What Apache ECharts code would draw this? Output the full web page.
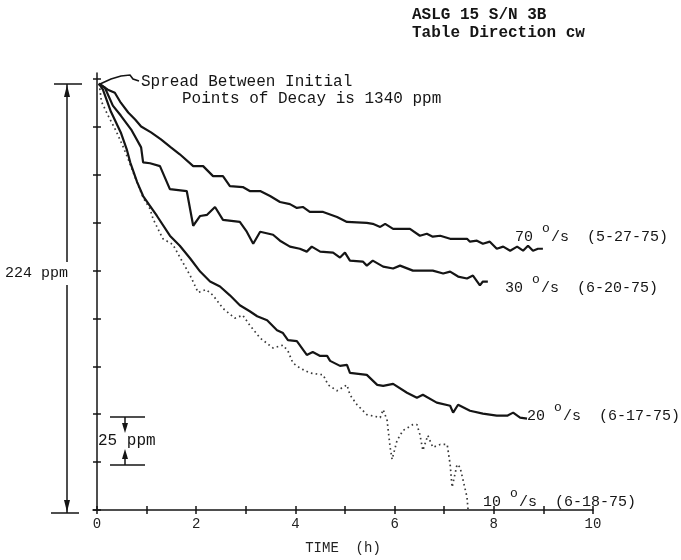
<!DOCTYPE html>
<html>
<head>
<meta charset="utf-8">
<script src="https://cdn.jsdelivr.net/npm/echarts@6/dist/echarts.min.js"></script>
<style>
  html, body { margin: 0; padding: 0; background: #fff; }
  #chart { width: 681px; height: 560px; }
</style>
</head>
<body>
<div id="chart"></div>
<script>
// Time axis (hours): a tick every hour, labels every two hours
const timeTicks = [0, 1, 2, 3, 4, 5, 6, 7, 8, 9, 10];
const timeLabels = [0, 2, 4, 6, 8, 10];
// Drift axis (ppm): a tick every 25 ppm
const ppmTicks = [0, 25, 50, 75, 100, 125, 150, 175, 200, 225];

// Decay curves: [time h, relative drift ppm]
const decay70 = [
  [0.04, 222.4], [0.22, 219.3], [0.36, 217.7], [0.48, 212.5], [0.63, 207.4], [0.77, 203.7],
  [0.89, 200.1], [1.09, 197.0], [1.29, 193.4], [1.49, 189.2], [1.67, 185.6], [1.94, 179.4],
  [2.14, 179.4], [2.34, 174.2], [2.54, 174.2], [2.68, 169.0], [2.94, 168.5], [3.08, 166.4],
  [3.29, 166.4], [3.49, 163.8], [3.69, 160.7], [3.89, 159.6], [4.03, 157.6], [4.15, 158.1],
  [4.29, 155.5], [4.56, 155.5], [4.84, 152.9], [5.04, 150.3], [5.44, 149.8], [5.56, 149.3],
  [5.71, 147.7], [5.81, 149.3], [5.97, 146.7], [6.31, 146.7], [6.51, 143.1], [6.65, 144.1],
  [6.77, 142.6], [6.92, 143.1], [7.12, 141.5], [7.46, 141.5], [7.52, 140.0], [7.66, 140.5],
  [7.78, 138.9], [7.92, 140.0], [8.06, 136.3], [8.19, 137.4], [8.33, 135.3], [8.47, 137.4],
  [8.59, 135.3], [8.69, 137.9], [8.79, 135.3], [8.89, 136.3], [8.99, 136.3]
];
const decay30 = [
  [0.04, 222.4], [0.16, 220.3], [0.32, 211.0], [0.48, 205.8], [0.69, 198.5], [0.89, 189.2],
  [0.93, 181.4], [1.07, 180.9], [1.27, 179.4], [1.47, 167.4], [1.81, 166.4], [1.94, 148.3],
  [2.08, 153.4], [2.22, 154.0], [2.38, 158.1], [2.54, 151.4], [2.88, 150.3], [3.02, 145.2],
  [3.15, 138.9], [3.29, 145.2], [3.55, 143.6], [3.69, 140.5], [3.89, 137.4], [4.09, 136.3],
  [4.23, 134.8], [4.33, 137.4], [4.50, 134.8], [4.76, 134.3], [4.90, 131.7], [5.00, 134.3],
  [5.10, 130.1], [5.36, 129.6], [5.44, 127.5], [5.56, 130.1], [5.77, 127.0], [5.97, 126.0],
  [6.11, 127.5], [6.37, 124.9], [6.77, 124.9], [6.98, 123.4], [7.12, 124.4], [7.28, 121.8],
  [7.46, 120.8], [7.58, 122.3], [7.72, 117.2], [7.78, 119.2], [7.88, 119.2]
];
const decay20 = [
  [0.04, 222.4], [0.12, 219.3], [0.28, 207.9], [0.48, 197.0], [0.60, 188.2], [0.67, 181.4],
  [0.81, 171.1], [0.93, 163.8], [1.21, 153.4], [1.47, 143.1], [1.67, 137.9], [1.88, 131.2],
  [2.08, 124.4], [2.28, 119.2], [2.48, 116.6], [2.68, 112.0], [2.88, 106.8], [3.08, 103.7],
  [3.23, 101.1], [3.43, 99.0], [3.63, 93.8], [3.75, 92.3], [3.85, 88.6], [4.03, 88.1],
  [4.23, 80.9], [4.35, 82.4], [4.50, 80.4], [4.64, 80.4], [4.70, 77.8], [4.90, 75.2],
  [5.04, 75.7], [5.10, 71.5], [5.44, 70.5], [5.65, 65.3], [5.77, 64.8], [5.97, 65.8],
  [6.25, 61.2], [6.45, 58.6], [6.57, 60.1], [6.85, 56.0], [7.12, 54.4], [7.18, 50.8],
  [7.28, 54.9], [7.52, 51.8], [7.78, 50.3], [8.06, 49.2], [8.27, 49.2], [8.39, 50.8],
  [8.53, 48.2], [8.67, 47.7]
];
const decay10 = [
  [0.04, 222.4], [0.06, 219.3], [0.09, 213.1], [0.22, 206.0], [0.38, 198.0], [0.52, 190.0],
  [0.63, 183.0], [0.77, 173.5], [0.93, 163.0], [1.07, 157.1], [1.13, 151.9], [1.33, 141.5],
  [1.53, 138.5], [1.71, 130.1], [1.88, 122.3], [2.04, 113.5], [2.20, 115.0], [2.34, 112.0],
  [2.54, 105.2], [2.78, 100.1], [2.94, 101.6], [3.08, 96.4], [3.29, 89.7], [3.55, 84.5],
  [3.75, 86.0], [3.85, 83.0], [3.95, 76.7], [4.09, 74.1], [4.29, 71.5], [4.56, 70.5],
  [4.66, 65.3], [4.84, 62.2], [5.04, 65.3], [5.10, 60.1], [5.24, 55.0], [5.44, 49.8],
  [5.71, 48.2], [5.77, 52.4], [5.85, 46.7], [5.91, 32.7], [5.95, 26.4], [6.05, 36.3],
  [6.17, 41.5], [6.37, 44.6], [6.45, 44.6], [6.51, 39.4], [6.57, 31.1], [6.67, 38.9],
  [6.77, 32.7], [6.92, 34.2], [7.06, 34.2], [7.12, 23.8], [7.16, 11.9], [7.26, 23.8],
  [7.32, 22.3], [7.38, 15.6], [7.46, 6.7], [7.48, 0.5]
];

const INK = '#151515';
const MONO = '"Liberation Mono", "DejaVu Sans Mono", monospace';

function txt(x, y, s, size, weight) {
  return {
    type: 'text', x: x, y: y,
    style: { text: s, font: (weight || 'normal') + ' ' + size + 'px ' + MONO, fill: INK, textVerticalAlign: 'middle' }
  };
}
function seg(x1, y1, x2, y2, w) {
  return { type: 'line', shape: { x1: x1, y1: y1, x2: x2, y2: y2 }, style: { stroke: INK, lineWidth: w || 1.5 } };
}
function tri(pts) {
  return { type: 'polygon', shape: { points: pts }, style: { fill: INK } };
}
// rate label with a raised degree mark: "NN °/s  (date)"
function rateLabel(x, y, rate, date) {
  return [
    txt(x, y, rate + '  /s  ' + date, 15),
    txt(x + 27, y - 8, 'o', 13)
  ];
}

const chart = echarts.init(document.getElementById('chart'), null, { renderer: 'canvas' });

const xBase = {
  type: 'value', min: -0.08, max: 10, position: 'bottom',
  splitLine: { show: false }
};
const yBase = {
  type: 'value', min: 0, max: 228, position: 'left',
  splitLine: { show: false }, axisLabel: { show: false }
};

const lineSeries = (data, dotted) => ({
  type: 'line', data: data, showSymbol: false, smooth: false, z: dotted ? 2 : 3,
  lineStyle: dotted
    ? { color: '#3a3a3a', width: 1.7, type: [1.6, 3.2] }
    : { color: INK, width: 2.2 },
  emphasis: { disabled: true }
});

chart.setOption({
  animation: false,
  backgroundColor: '#ffffff',
  grid: { left: 93, right: 88, top: 73, bottom: 47, containLabel: false },
  xAxis: [
    Object.assign({}, xBase, {
      axisLine: { show: true, lineStyle: { color: INK, width: 1.5 } },
      axisTick: { show: true, inside: false, length: 4, customValues: timeTicks, lineStyle: { color: INK, width: 1.5 } },
      axisLabel: { show: true, customValues: timeLabels, margin: 7, color: '#222', fontFamily: MONO, fontSize: 14 },
      name: 'TIME  (h)', nameLocation: 'middle', nameGap: 31,
      nameTextStyle: { color: '#222', fontFamily: MONO, fontSize: 14 }
    }),
    Object.assign({}, xBase, {
      axisLine: { show: false },
      axisTick: { show: true, inside: true, length: 4, customValues: timeTicks, lineStyle: { color: INK, width: 1.5 } },
      axisLabel: { show: false }
    })
  ],
  yAxis: [
    Object.assign({}, yBase, {
      axisLine: { show: true, lineStyle: { color: INK, width: 1.5 } },
      axisTick: { show: true, inside: false, length: 4, customValues: ppmTicks, lineStyle: { color: INK, width: 1.5 } }
    }),
    Object.assign({}, yBase, {
      axisLine: { show: false },
      axisTick: { show: true, inside: true, length: 4, customValues: ppmTicks, lineStyle: { color: INK, width: 1.5 } }
    })
  ],
  series: [
    lineSeries(decay10, true),
    lineSeries(decay20),
    lineSeries(decay30),
    lineSeries(decay70)
  ],
  graphic: [].concat(
    // header
    [txt(412, 15, 'ASLG 15 S/N 3B', 16, 'bold'), txt(412, 33, 'Table Direction cw', 16, 'bold')],
    // spread annotation with its leader
    [
      { type: 'polyline', shape: { points: [[100, 84], [111, 79], [121, 76], [130, 75], [133, 79], [139, 81]] },
        style: { stroke: INK, lineWidth: 1.6, fill: null } },
      txt(141, 82, 'Spread Between Initial', 16),
      txt(182, 99, 'Points of Decay is 1340 ppm', 16)
    ],
    // curve labels
    rateLabel(515, 237, '70', '(5-27-75)'),
    rateLabel(505, 288, '30', '(6-20-75)'),
    rateLabel(527, 416, '20', '(6-17-75)'),
    rateLabel(483, 502, '10', '(6-18-75)'),
    // 224 ppm full-scale bracket
    [
      seg(54, 84, 82, 84), seg(51, 513, 79, 513),
      seg(67, 84, 67, 262), seg(67, 285, 67, 513),
      tri([[67, 85], [64, 97], [70, 97]]),
      tri([[67, 512], [64, 500], [70, 500]]),
      txt(5, 273, '224 ppm', 15)
    ],
    // 25 ppm scale bracket
    [
      seg(110, 417, 145, 417), seg(110, 465, 145, 465),
      seg(125, 417, 125, 424), seg(125, 458, 125, 465),
      tri([[122, 423], [128, 423], [125, 433]]),
      tri([[122, 459], [128, 459], [125, 449]]),
      txt(98, 441, '25 ppm', 16)
    ]
  )
});
</script>
</body>
</html>
